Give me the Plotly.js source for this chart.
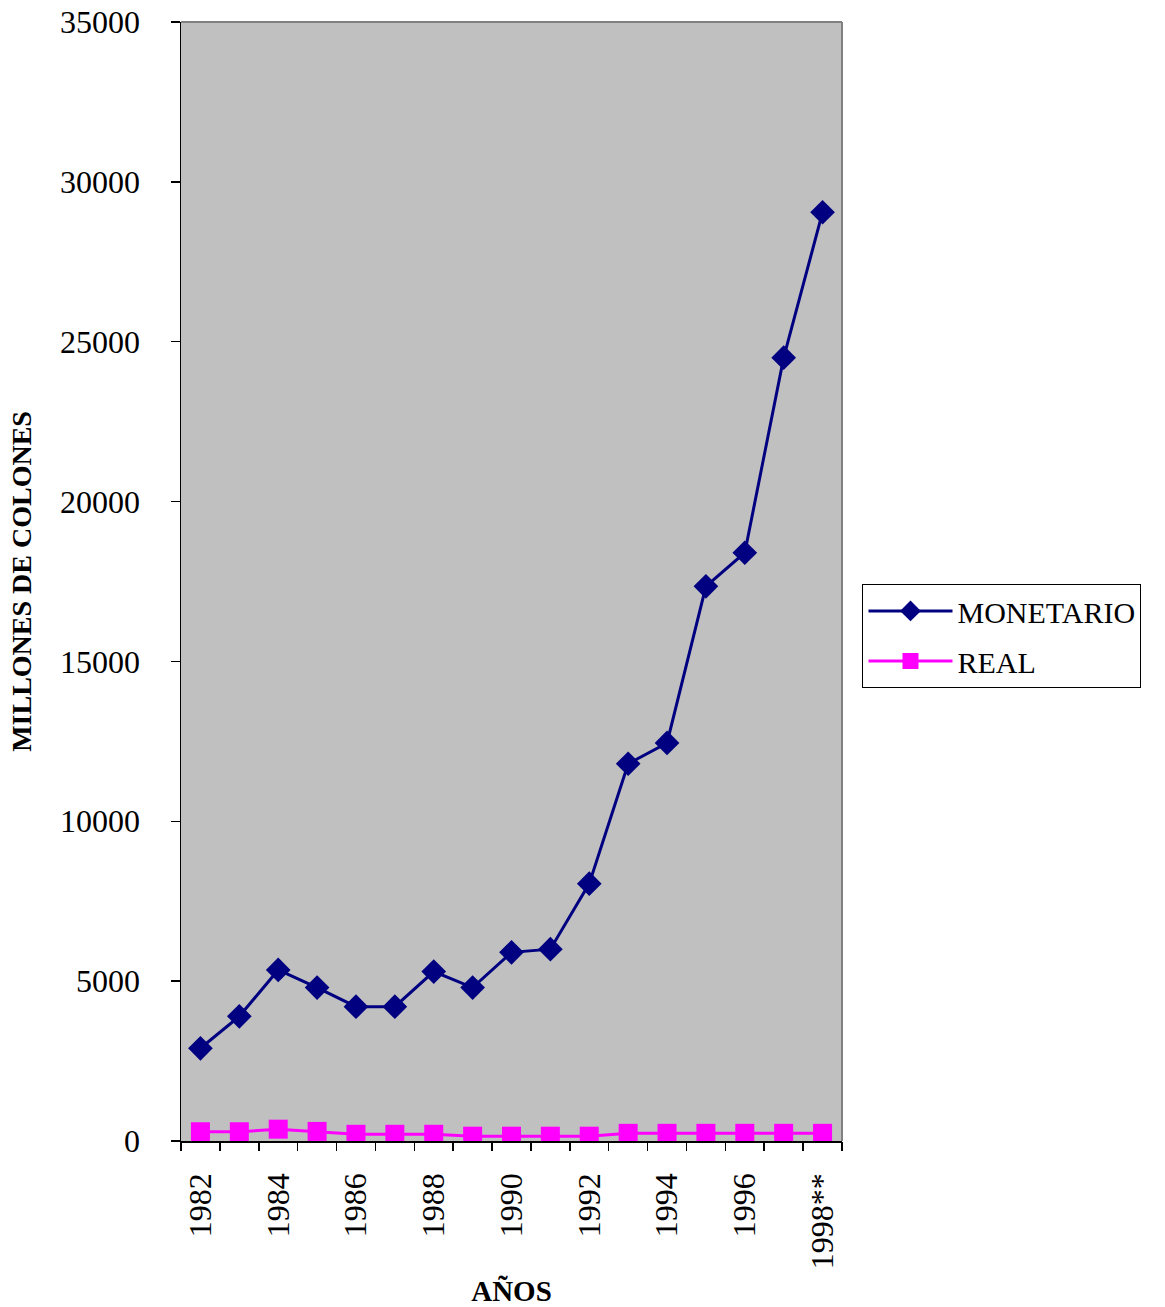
<!DOCTYPE html>
<html>
<head>
<meta charset="utf-8">
<script src="https://cdn.plot.ly/plotly-3.0.1.min.js"></script>
<style>html,body{margin:0;padding:0;background:#fff;}#chart{width:1165px;height:1307px;}</style>
</head>
<body>
<div id="chart"></div>
<script>
const years = ['1982','1983','1984','1985','1986','1987','1988','1989','1990','1991','1992','1993','1994','1995','1996','1997','1998**'];
const monetario = [2900,3900,5350,4800,4200,4200,5300,4800,5900,6000,8050,11800,12450,17350,18400,24500,29050];
const real = [290,290,370,300,210,210,210,150,150,150,150,240,240,240,240,240,240];
const xTickLabels = ['1982','1984','1986','1988','1990','1992','1994','1996','1998**'];
const boundaryTicks = Array.from({length: years.length + 1}, (_, i) => i - 0.5);

const font = 'Liberation Serif, Times New Roman, serif';

const traces = [
  {x: years, y: monetario, name: 'MONETARIO', type: 'scatter', mode: 'lines+markers',
   legendgroup: 'm',
   line: {color: '#000080', width: 3},
   marker: {symbol: 'diamond', size: 19, color: '#000080'}},
  {x: years, y: real, name: 'REAL', type: 'scatter', mode: 'lines+markers',
   legendgroup: 'r',
   line: {color: '#FF00FF', width: 3},
   marker: {symbol: 'square', size: 19, color: '#FF00FF'}},
  {x: [], y: [], xaxis: 'x2', showlegend: false, hoverinfo: 'skip'}
];

const layout = {
  width: 1165, height: 1307,
  margin: {l: 181, r: 323, t: 22, b: 166},
  paper_bgcolor: '#ffffff',
  plot_bgcolor: '#C0C0C0',
  font: {family: font, color: '#000', size: 32},
  showlegend: true,
  legend: {x: 1.031, y: 0.4978, xanchor: 'left', yanchor: 'top',
           bordercolor: '#000', borderwidth: 1, bgcolor: '#fff',
           itemwidth: 84, traceorder: 'grouped', tracegroupgap: 8,
           font: {family: font, size: 30}},
  xaxis: {type: 'category', categoryorder: 'array', categoryarray: years,
          range: [-0.5, years.length - 0.5],
          tickvals: xTickLabels, ticktext: xTickLabels, tickangle: -90,
          ticks: '', showgrid: false, zeroline: false, ticklabelstandoff: 18,
          showline: true, linecolor: '#000', linewidth: 1.5,
          tickfont: {family: font, size: 32},
          title: {text: '<b>AÑOS</b>', font: {family: font, size: 29}, standoff: 30}},
  xaxis2: {overlaying: 'x', anchor: 'y', side: 'bottom', range: [-0.5, years.length - 0.5],
           tickmode: 'array', tickvals: boundaryTicks, ticks: 'outside', ticklen: 9,
           tickcolor: '#000', tickwidth: 1.5, showticklabels: false, showgrid: false,
           zeroline: false, showline: false},
  yaxis: {range: [0, 35000], dtick: 5000, tickformat: 'd', ticks: 'outside', ticklen: 9,
          tickcolor: '#000', tickwidth: 1.5, showgrid: false, zeroline: false,
          showline: true, linecolor: '#000', linewidth: 1.5, ticklabelstandoff: 24,
          tickfont: {family: font, size: 32},
          title: {text: '<b>MILLONES DE COLONES</b>', font: {family: font, size: 28}, standoff: 20}},
  shapes: [
    {type: 'line', xref: 'paper', yref: 'paper', x0: 0, x1: 1, y0: 1, y1: 1, line: {color: '#808080', width: 2}},
    {type: 'line', xref: 'paper', yref: 'paper', x0: 1, x1: 1, y0: 0, y1: 1, line: {color: '#808080', width: 2}}
  ]
};

Plotly.newPlot('chart', traces, layout, {displayModeBar: false, staticPlot: true});
</script>
</body>
</html>
